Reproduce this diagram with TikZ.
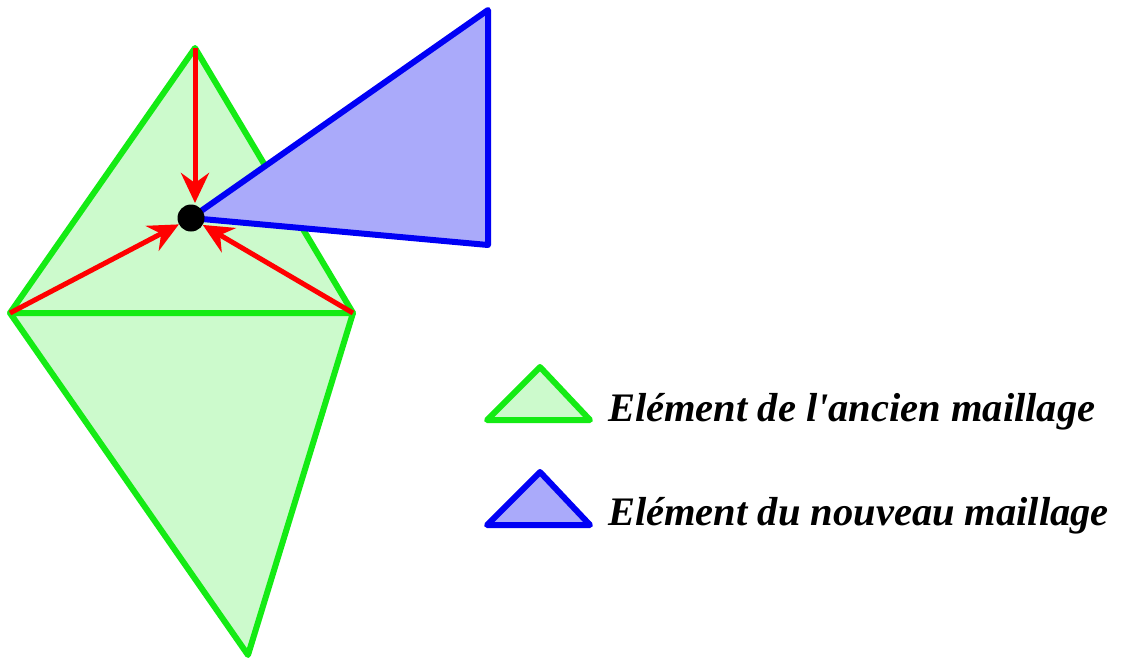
\documentclass[tikz,border=0pt]{standalone}
\usepackage{fontspec}
\setmainfont{Liberation Serif}
\usetikzlibrary{arrows.meta}

\definecolor{vertmail}{RGB}{20,235,20}
\definecolor{vertfond}{RGB}{204,250,204}
\definecolor{bleumail}{RGB}{0,0,245}
\definecolor{bleufond}{RGB}{170,170,250}

\tikzset{
  ancien/.style={draw=vertmail, fill=vertfond, line width=6pt, line join=round},
  nouveau/.style={draw=bleumail, fill=bleufond, line width=6pt, line join=round},
  fleche/.style={red, line width=5pt, -{Stealth[length=30pt, width=28pt, inset=10pt]}},
  legende/.style={anchor=base west, font=\fontsize{40.5}{46}\selectfont\bfseries\itshape, inner sep=0pt}
}

\begin{document}
\begin{tikzpicture}[x=1pt, y=-1pt]
  \useasboundingbox (0,0) rectangle (1123,659);
  % sommets de l'ancien maillage
  \coordinate (S) at (195,48);
  \coordinate (G) at (10,313);
  \coordinate (D) at (353,313);
  \coordinate (B) at (248,655);
  \draw[ancien] (G) -- (S) -- (D) -- cycle;
  \draw[ancien] (G) -- (D) -- (B) -- cycle;
  % element du nouveau maillage
  \coordinate (P) at (191,218);
  \coordinate (N1) at (488,10);
  \coordinate (N2) at (488,245);
  \draw[nouveau] (P) -- (N1) -- (N2) -- cycle;
  \node[circle, fill=black, minimum size=27pt, inner sep=0pt] (pt) at (P) {};
  \draw[fleche] (S) -- (195,203);
  \draw[fleche] (G) -- (pt);
  \draw[fleche] (D) -- (pt);
  % legende
  \draw[ancien] (487,420) -- (540,367) -- (590,420) -- cycle;
  \draw[nouveau] (487,525) -- (540,472) -- (590,525) -- cycle;
  \node[legende] (l1) at (608,421) {Elément de l\textquotesingle ancien maillage};
  \node[legende] (l2) at (608,525) {Elément du nouveau maillage};
\end{tikzpicture}
\end{document}
